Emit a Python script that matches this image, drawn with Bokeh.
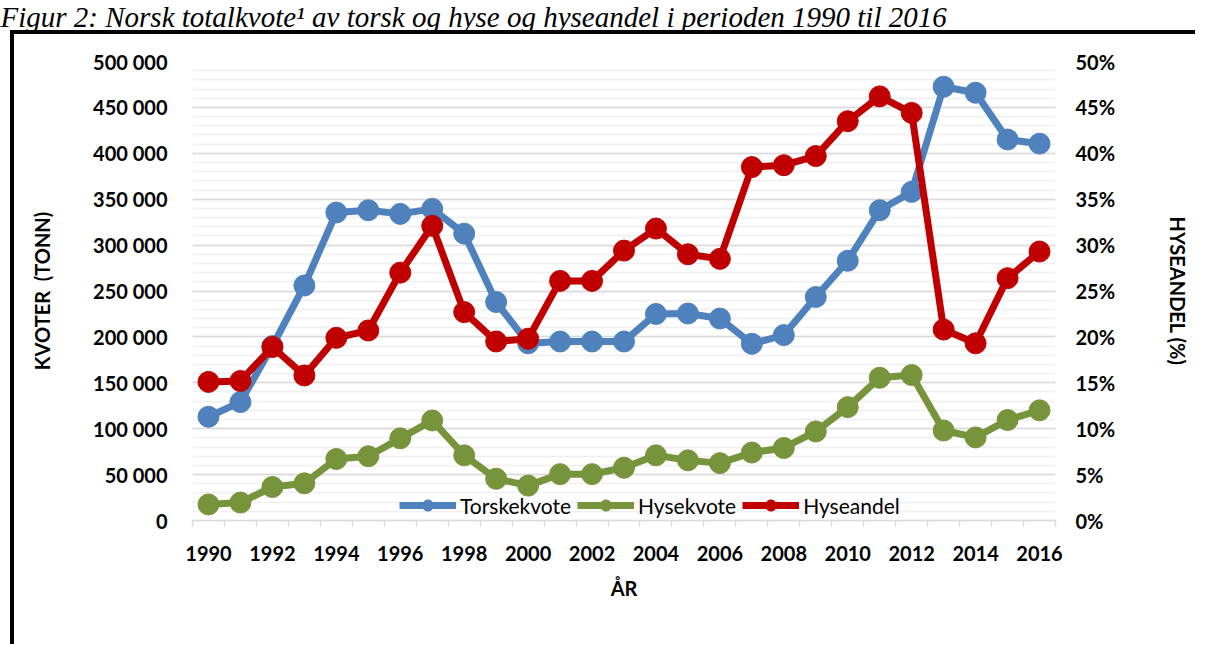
from bokeh.plotting import figure
from bokeh.models import (Range1d, LinearAxis, FixedTicker, SingleIntervalTicker,
                          CustomJSTickFormatter, Legend, LegendItem, Title, InlineStyleSheet)
from bokeh.embed import file_html
from bokeh.resources import INLINE

years = list(range(1990, 2017))
torskekvote = [113000, 129000, 190000, 256000, 335500, 338000, 334000, 339500, 312500,
               238000, 193000, 195000, 195000, 195000, 225000, 225500, 220000, 192500,
               202000, 243500, 283000, 338000, 358000, 472500, 466000, 415000, 410500]
hysekvote = [17500, 19500, 36500, 40500, 67000, 70000, 89500, 109000, 71000,
             45500, 38000, 50500, 50500, 57500, 71000, 65500, 62500, 74000,
             79000, 97000, 123500, 155500, 158500, 98000, 90500, 109500, 120000]
hyseandel = [15.1, 15.2, 18.9, 15.8, 19.9, 20.7, 27.0, 32.1, 22.7,
             19.5, 19.8, 26.1, 26.1, 29.4, 31.8, 29.0, 28.5, 38.5,
             38.7, 39.7, 43.5, 46.2, 44.4, 20.8, 19.3, 26.4, 29.3]
label_years = list(range(1990, 2017, 2))
caption = "Figur 2: Norsk totalkvote\u00b9 av torsk og hyse og hyseandel i perioden 1990 til 2016"

BLUE, GREEN, RED = "#4F81BD", "#77933C", "#C00000"
FONT = "Lato"

p = figure(width=1195, height=644, frame_width=863, frame_height=459,
           output_backend="svg", toolbar_location=None,
           x_range=Range1d(1989.5, 2016.5), y_range=Range1d(0, 500000),
           min_border_left=192, min_border_right=140, min_border_top=61, min_border_bottom=124,
           x_axis_location=None, y_axis_location=None)
p.outline_line_color = None
p.background_fill_color = "white"
p.border_fill_alpha = 0
p.extra_y_ranges = {"pct": Range1d(0, 50)}
# thick black frame round the chart: two inset shadows (no effect on layout)
p.stylesheets = [InlineStyleSheet(css=
    ":host { box-shadow: inset 10px 30px 0 0 #ffffff, inset 14px 34px 0 0 #000000; }")]

# caption above the frame: spacer title nearest the plot, caption title outermost
p.add_layout(Title(text=" ", text_font_size="10px", standoff=14), "above")
p.add_layout(Title(text=caption, align="left", offset=-192, vertical_align="top", standoff=0,
                   text_font="Liberation Serif", text_font_style="italic",
                   text_font_size="29px", text_color="black"), "above")

xaxis = LinearAxis(ticker=FixedTicker(ticks=label_years,
                                      minor_ticks=[y - 0.5 for y in range(1990, 2018)]))
xaxis.axis_label = "ÅR"
xaxis.axis_line_color = "#d9d9d9"
xaxis.axis_line_width = 1.5
xaxis.major_tick_line_color = None
xaxis.major_tick_out = 0
xaxis.major_tick_in = 0
xaxis.minor_tick_line_color = "#d9d9d9"
xaxis.minor_tick_line_width = 1.5
xaxis.minor_tick_out = 6
xaxis.minor_tick_in = 0
xaxis.major_label_standoff = 19
xaxis.axis_label_standoff = 12
p.add_layout(xaxis, "below")

yaxis = LinearAxis(ticker=SingleIntervalTicker(interval=50000, num_minor_ticks=5),
                   formatter=CustomJSTickFormatter(
                       code="return tick.toFixed(0).replace(/\\B(?=(\\d{3})+(?!\\d))/g, ' ');"))
yaxis.axis_label = "KVOTER\u00a0 (TONN)"
yaxis.axis_line_color = None
yaxis.major_tick_line_color = None
yaxis.minor_tick_line_color = None
yaxis.major_label_standoff = 19
yaxis.axis_label_standoff = 36
p.add_layout(yaxis, "left")

raxis = LinearAxis(y_range_name="pct", ticker=SingleIntervalTicker(interval=5, num_minor_ticks=0),
                   formatter=CustomJSTickFormatter(code="return tick.toFixed(0) + '%';"))
raxis.axis_label = "HYSEANDEL (%)"
raxis.axis_line_color = None
raxis.major_tick_line_color = None
raxis.minor_tick_line_color = None
raxis.major_label_standoff = 14
raxis.axis_label_standoff = 48
p.add_layout(raxis, "right")

for ax in (xaxis, yaxis, raxis):
    ax.major_label_text_font = FONT
    ax.major_label_text_font_style = "bold"
    ax.major_label_text_font_size = "20px"
    ax.major_label_text_color = "black"
    ax.axis_label_text_font = FONT
    ax.axis_label_text_font_style = "bold"
    ax.axis_label_text_font_size = "20px"
    ax.axis_label_text_color = "black"

p.xgrid.visible = False
p.ygrid.ticker = yaxis.ticker
p.ygrid.grid_line_color = "#d9d9d9"
p.ygrid.grid_line_width = 1.5
p.ygrid.minor_grid_line_color = "#efefef"
p.ygrid.minor_grid_line_width = 1.5

lw, ms = 7, 21
l1 = p.line(years, torskekvote, line_color=BLUE, line_width=lw, line_join="round")
s1 = p.scatter(years, torskekvote, size=ms, fill_color=BLUE, line_color=BLUE)
l2 = p.line(years, hysekvote, line_color=GREEN, line_width=lw, line_join="round")
s2 = p.scatter(years, hysekvote, size=ms, fill_color=GREEN, line_color=GREEN)
l3 = p.line(years, hyseandel, line_color=RED, line_width=lw, line_join="round", y_range_name="pct")
s3 = p.scatter(years, hyseandel, size=ms, fill_color=RED, line_color=RED, y_range_name="pct")

legend = Legend(items=[LegendItem(label="Torskekvote", renderers=[l1, s1]),
                       LegendItem(label="Hysekvote", renderers=[l2, s2]),
                       LegendItem(label="Hyseandel", renderers=[l3, s3])],
                orientation="horizontal", location=(207, 1),
                glyph_width=57, glyph_height=28, label_standoff=4, spacing=6,
                padding=0, margin=0, border_line_color=None, background_fill_alpha=0,
                label_text_font=FONT, label_text_font_size="21px", label_text_color="black")
p.add_layout(legend, "center")

open("out.html", "w").write(file_html(p, INLINE))
